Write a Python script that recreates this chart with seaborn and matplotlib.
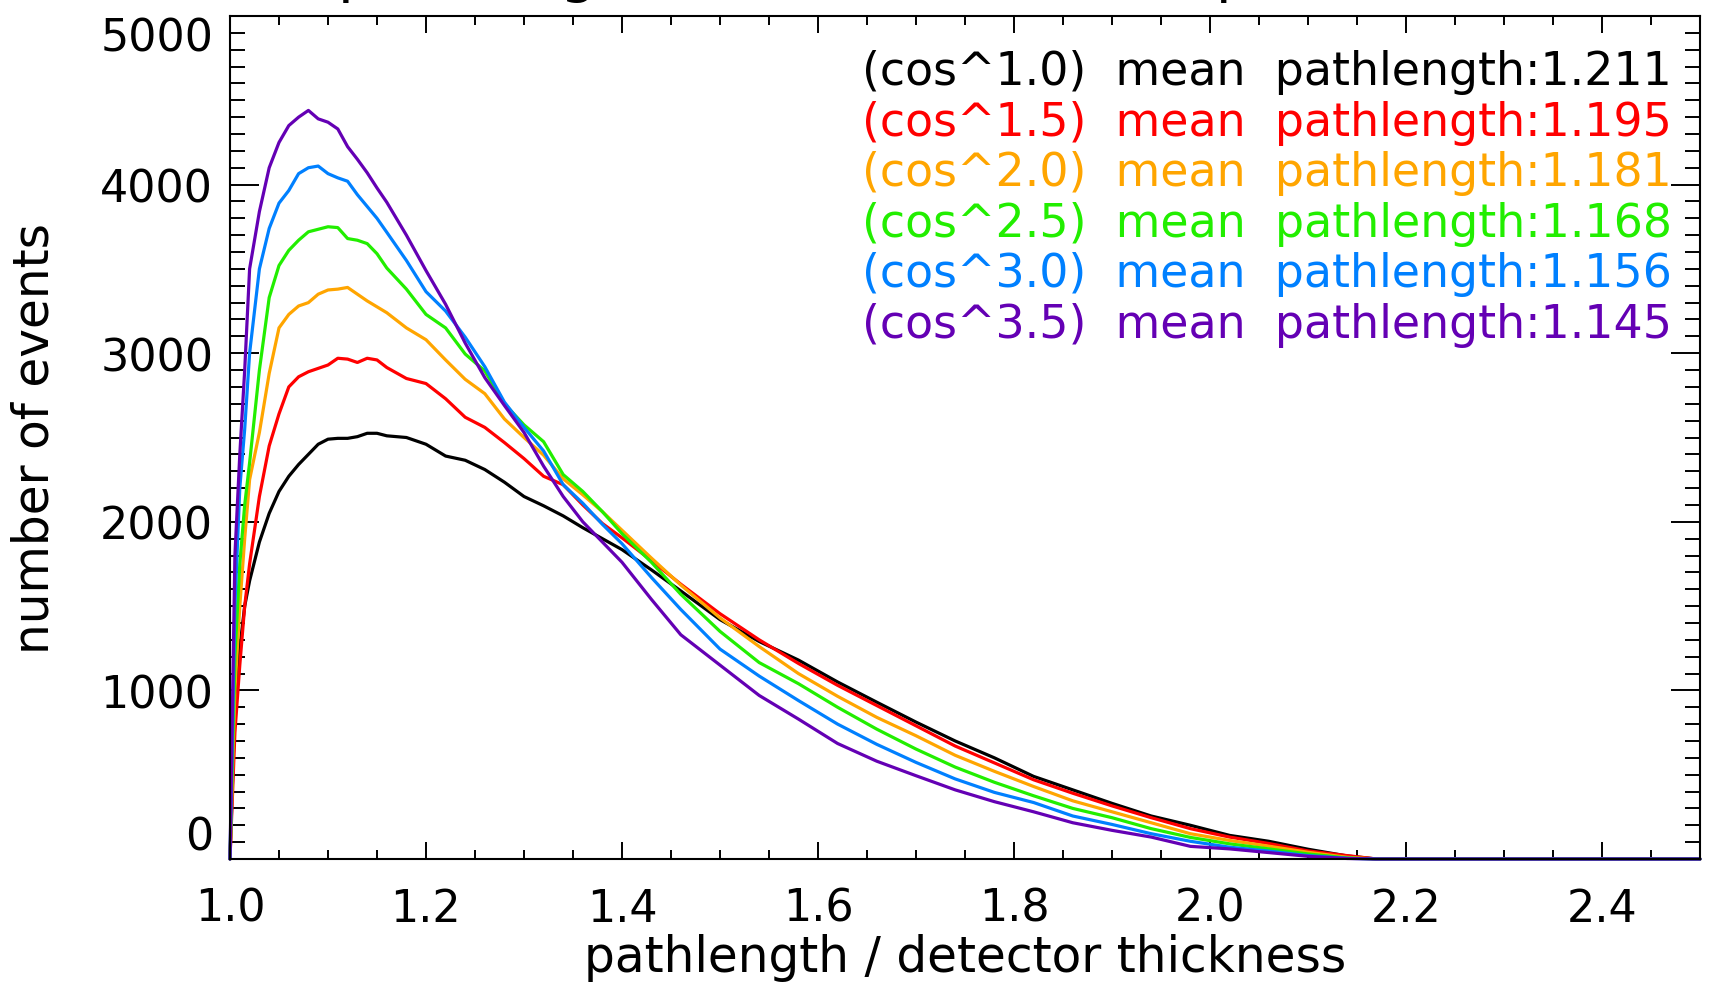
import numpy as np
import pandas as pd
import matplotlib
matplotlib.use("Agg")
import matplotlib.pyplot as plt
from matplotlib.ticker import MultipleLocator
import seaborn as sns

# pathlength / detector thickness (bin positions)
pathlength = [1.0, 1.005, 1.01, 1.015, 1.02, 1.03, 1.04, 1.05, 1.06, 1.07, 1.08, 1.09,
              1.10, 1.11, 1.12, 1.13, 1.14, 1.15, 1.16, 1.18, 1.20, 1.22, 1.24, 1.26,
              1.28, 1.30, 1.32, 1.34, 1.36, 1.38, 1.40, 1.43, 1.46, 1.50, 1.54, 1.58,
              1.62, 1.66, 1.70, 1.74, 1.78, 1.82, 1.86, 1.90, 1.94, 1.98, 2.02, 2.06,
              2.10, 2.14, 2.17, 2.5]

# number of events for each zenith exponent
events_cos10 = [0, 900, 1250, 1500, 1650, 1880, 2050, 2180, 2270, 2340, 2400, 2460,
                2490, 2495, 2495, 2505, 2525, 2525, 2510, 2500, 2460, 2390, 2365, 2310,
                2235, 2150, 2095, 2035, 1965, 1900, 1835, 1715, 1590, 1420, 1290, 1180,
                1050, 930, 812, 700, 600, 490, 410, 330, 255, 200, 140, 105,
                58, 18, 0, 0]
events_cos15 = [0, 750, 1150, 1500, 1750, 2150, 2450, 2640, 2800, 2860, 2890, 2910,
                2930, 2970, 2965, 2945, 2970, 2960, 2915, 2850, 2820, 2730, 2620, 2560,
                2470, 2375, 2270, 2220, 2100, 1990, 1905, 1770, 1630, 1455, 1300, 1160,
                1030, 910, 790, 670, 570, 470, 390, 315, 245, 180, 130, 92,
                48, 20, 0, 0]
events_cos20 = [0, 1000, 1500, 1900, 2250, 2530, 2880, 3150, 3230, 3280, 3300, 3350,
                3375, 3380, 3390, 3350, 3310, 3275, 3240, 3150, 3080, 2960, 2845, 2760,
                2610, 2500, 2395, 2255, 2160, 2060, 1950, 1785, 1625, 1430, 1260, 1100,
                965, 840, 731, 615, 520, 430, 345, 280, 215, 150, 110, 76,
                40, 10, 0, 0]
events_cos25 = [0, 1200, 1750, 2100, 2350, 2900, 3330, 3520, 3610, 3670, 3720, 3735,
                3750, 3745, 3680, 3670, 3650, 3590, 3505, 3380, 3230, 3150, 2995, 2895,
                2700, 2575, 2475, 2280, 2180, 2060, 1930, 1760, 1570, 1350, 1165, 1040,
                900, 770, 652, 545, 455, 375, 300, 245, 180, 128, 90, 60,
                30, 6, 0, 0]
events_cos30 = [0, 1500, 2200, 2550, 3000, 3500, 3740, 3890, 3965, 4065, 4100, 4110,
                4065, 4040, 4020, 3940, 3870, 3800, 3717, 3550, 3365, 3250, 3095, 2920,
                2710, 2560, 2420, 2220, 2110, 1985, 1870, 1670, 1480, 1245, 1085, 940,
                800, 680, 573, 475, 395, 335, 255, 205, 150, 105, 70, 47,
                20, 4, 0, 0]
events_cos35 = [0, 1800, 2400, 2900, 3500, 3840, 4100, 4250, 4350, 4400, 4440, 4390,
                4370, 4330, 4225, 4150, 4070, 3980, 3895, 3700, 3490, 3290, 3060, 2855,
                2690, 2530, 2330, 2150, 2000, 1880, 1760, 1540, 1330, 1150, 970, 830,
                685, 580, 494, 410, 340, 280, 215, 170, 130, 75, 60, 38,
                16, 3, 0, 0]

exponents = ["cos^1.0", "cos^1.5", "cos^2.0", "cos^2.5", "cos^3.0", "cos^3.5"]
mean_pathlength = ["1.211", "1.195", "1.181", "1.168", "1.156", "1.145"]
colors = ["#000000", "#FF0000", "#FFA500", "#22EE00", "#0080FF", "#6400B4"]

series = [events_cos10, events_cos15, events_cos20, events_cos25, events_cos30, events_cos35]
frames = []
for name, vals in zip(exponents, series):
    frames.append(pd.DataFrame({"pathlength": pathlength, "events": vals, "exponent": name}))
df = pd.concat(frames, ignore_index=True)

sns.set_theme(style="ticks")
plt.rcParams["font.family"] = ["DejaVu Sans"]
plt.rcParams["text.color"] = "black"
plt.rcParams["axes.labelcolor"] = "black"
plt.rcParams["xtick.color"] = "black"
plt.rcParams["ytick.color"] = "black"

fig = plt.figure(figsize=(17.10, 9.95), dpi=100)
ax = fig.add_axes([230 / 1710, 1 - 860 / 995, 1470 / 1710, 843 / 995])

sns.lineplot(data=df, x="pathlength", y="events", hue="exponent",
             palette=dict(zip(exponents, colors)), hue_order=exponents,
             linewidth=2.3, legend=False, ax=ax, estimator=None, sort=False)
for line in ax.get_lines():
    line.set_clip_on(False)

ax.set_xlim(1.0, 2.5)
ax.set_ylim(0, 5000)

ax.xaxis.set_minor_locator(MultipleLocator(0.05))
ax.yaxis.set_minor_locator(MultipleLocator(100))
xt = np.arange(1.0, 2.41, 0.2)
ax.set_xticks(xt)
ax.set_xticklabels([f"{v:.1f}" for v in xt])
ax.set_yticks(np.arange(0, 5001, 1000))
ax.set_yticklabels([str(v) for v in range(0, 5001, 1000)])

ax.tick_params(axis="x", which="major", direction="in", length=12, width=1.4,
               top=True, bottom=True, labelsize=32, pad=20, color="black",
               labelcolor="black")
ax.tick_params(axis="x", which="minor", direction="in", length=6.5, width=1.4,
               top=True, bottom=True, color="black")
ax.tick_params(axis="y", which="major", direction="in", length=21, width=1.4,
               left=True, right=True, labelsize=32, pad=12, color="black",
               labelcolor="black")
ax.tick_params(axis="y", which="minor", direction="in", length=11, width=1.4,
               left=True, right=True, color="black")

ylabels = ax.get_yticklabels()
ylabels[0].set_verticalalignment("bottom")
ylabels[-1].set_verticalalignment("top")

for sp in ax.spines.values():
    sp.set_visible(True)
    sp.set_linewidth(1.5)
    sp.set_color("black")

ax.set_xlabel("pathlength / detector thickness", fontsize=35, labelpad=2, color="black")
ax.set_ylabel("number of events", fontsize=35, labelpad=30, color="black")

for i, (name, mean, col) in enumerate(zip(exponents, mean_pathlength, colors)):
    fig.text(862 / 1710, 1 - (85 + i * 50.6) / 995,
             f"({name})  mean  pathlength:{mean}",
             color=col, fontsize=33, ha="left", va="baseline")

fig.text(338 / 1710, 1 + 9 / 995, "pathlength distribution of the particles",
         fontsize=42, ha="left", va="baseline", color="black")

fig.savefig("out.png", dpi=100)
